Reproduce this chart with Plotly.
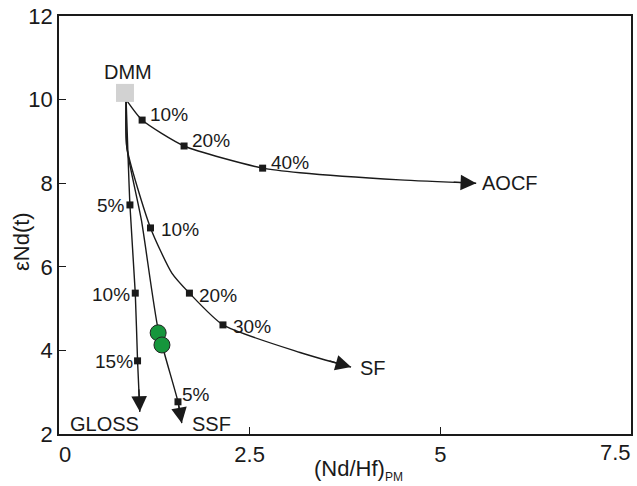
import plotly.graph_objects as go

# ---- data ----
dmm_x = [0.865]
dmm_y = [10.16]

aocf_x = [0.88, 1.09, 1.64, 2.67, 3.16, 4.47, 5.47]
aocf_y = [10.0, 9.51, 8.89, 8.36, 8.25, 8.08, 8.0]
aocf_mark_x = [1.09, 1.64, 2.67]
aocf_mark_y = [9.51, 8.89, 8.36]
aocf_mark_lbl = ["10%", "20%", "40%"]

gloss_x = [0.88, 0.93, 1.00, 1.03, 1.06]
gloss_y = [10.0, 7.48, 5.37, 3.75, 2.53]
gloss_mark_x = [0.93, 1.00, 1.03]
gloss_mark_y = [7.48, 5.37, 3.75]
gloss_mark_lbl = ["5%", "10%", "15%"]

ssf_x = [0.88, 0.89, 1.08, 1.30, 1.56, 1.61]
ssf_y = [10.0, 8.85, 7.12, 4.50, 2.77, 2.26]
ssf_mark_x = [1.56]
ssf_mark_y = [2.77]
ssf_mark_lbl = ["5%"]

sf_x = [0.88, 0.89, 1.20, 1.48, 1.71, 2.15, 3.16, 3.83]
sf_y = [10.0, 8.85, 6.93, 5.85, 5.37, 4.61, 3.95, 3.60]
sf_mark_x = [1.20, 1.71, 2.15]
sf_mark_y = [6.93, 5.37, 4.61]
sf_mark_lbl = ["10%", "20%", "30%"]

sample_x = [1.30, 1.35]
sample_y = [4.42, 4.13]

x_ticks = [0, 2.5, 5, 7.5]
x_ticklabels = ["0", "2.5", "5", "7.5"]
y_ticks = [2, 4, 6, 8, 10, 12]

FONT = "Arial, Liberation Sans, sans-serif"
BLACK = "#1a1a1a"

W, H = 637, 486
ML, MR, MT, MB = 59, 6, 16, 52
XR = [0, 7.5]
YR = [2, 12]
ppx = (W - ML - MR) / (XR[1] - XR[0])
ppy = (H - MT - MB) / (YR[1] - YR[0])

fig = go.Figure()

curves = [(aocf_x, aocf_y), (gloss_x, gloss_y), (ssf_x, ssf_y), (sf_x, sf_y)]
for cx, cy in curves:
    fig.add_trace(go.Scatter(x=cx, y=cy, mode="lines",
                             line=dict(color=BLACK, width=1.4, shape="spline", smoothing=0.6),
                             hoverinfo="skip", showlegend=False))

# arrow heads at curve ends (tail placed a fixed pixel distance back along the last segment)
for cx, cy in curves:
    tx, ty = cx[-1], cy[-1]
    dxp = (tx - cx[-2]) * ppx
    dyp = (ty - cy[-2]) * ppy
    n = (dxp ** 2 + dyp ** 2) ** 0.5
    L = 24.0
    ax_ = tx - dxp / n * L / ppx
    ay_ = ty - dyp / n * L / ppy
    fig.add_annotation(x=tx, y=ty, ax=ax_, ay=ay_,
                       xref="x", yref="y", axref="x", ayref="y", text="",
                       showarrow=True, arrowhead=2, arrowsize=2.4, arrowwidth=1.3,
                       arrowcolor=BLACK)

# DMM square
fig.add_trace(go.Scatter(x=dmm_x, y=dmm_y, mode="markers",
                         marker=dict(symbol="square", size=18, color="#d2d2d2"),
                         hoverinfo="skip", showlegend=False))

# percentage markers
all_mx = aocf_mark_x + gloss_mark_x + ssf_mark_x + sf_mark_x
all_my = aocf_mark_y + gloss_mark_y + ssf_mark_y + sf_mark_y
fig.add_trace(go.Scatter(x=all_mx, y=all_my, mode="markers",
                         marker=dict(symbol="square", size=7, color=BLACK),
                         hoverinfo="skip", showlegend=False))

# samples
fig.add_trace(go.Scatter(x=sample_x, y=sample_y, mode="markers",
                         marker=dict(symbol="circle", size=16, color="#16963c",
                                     line=dict(color="#222222", width=1)),
                         hoverinfo="skip", showlegend=False))

pct_font = dict(family=FONT, size=19, color=BLACK)
end_font = dict(family=FONT, size=20, color=BLACK)

def pct_labels(xs, ys, lbls, side, dx, dy):
    for x, y, t in zip(xs, ys, lbls):
        fig.add_annotation(x=x, y=y, text=t, showarrow=False, font=pct_font,
                           xanchor=side, yanchor="middle", xshift=dx, yshift=dy)

pct_labels(aocf_mark_x, aocf_mark_y, aocf_mark_lbl, "left", 6, 6)
pct_labels(gloss_mark_x, gloss_mark_y, gloss_mark_lbl, "right", -3, -1)
pct_labels(ssf_mark_x, ssf_mark_y, ssf_mark_lbl, "left", 2, 7)
pct_labels(sf_mark_x, sf_mark_y, sf_mark_lbl, "left", 8, -2)

# end-member labels
fig.add_annotation(x=dmm_x[0], y=dmm_y[0], text="DMM", showarrow=False, font=end_font,
                   xanchor="center", yanchor="middle", xshift=3, yshift=21)
fig.add_annotation(x=aocf_x[-1], y=aocf_y[-1], text="AOCF", showarrow=False, font=end_font,
                   xanchor="left", yanchor="middle", xshift=4, yshift=0)
fig.add_annotation(x=sf_x[-1], y=sf_y[-1], text="SF", showarrow=False, font=end_font,
                   xanchor="left", yanchor="middle", xshift=7, yshift=-1)
fig.add_annotation(x=gloss_x[-1], y=gloss_y[-1], text="GLOSS", showarrow=False, font=end_font,
                   xanchor="right", yanchor="middle", xshift=1, yshift=-12)
fig.add_annotation(x=ssf_x[-1], y=ssf_y[-1], text="SSF", showarrow=False, font=end_font,
                   xanchor="left", yanchor="middle", xshift=8, yshift=-1)

# axis titles
fig.add_annotation(xref="paper", yref="paper", x=0.5, y=0, xshift=13, yshift=-36,
                   text="(Nd/Hf)<sub><span style='font-size:12px'>PM</span></sub>",
                   showarrow=False, font=dict(family=FONT, size=22, color=BLACK),
                   xanchor="center", yanchor="middle")
fig.add_annotation(xref="paper", yref="paper", x=0, y=0.5, xshift=-38, yshift=-17,
                   text="εNd(t)", textangle=-90, showarrow=False,
                   font=dict(family=FONT, size=22, color=BLACK),
                   xanchor="center", yanchor="middle")

tick_font = dict(family=FONT, size=22, color=BLACK)

# first label nudged right as in the reference; the last one is right-aligned inside the frame
NB = "\u00a0"
x_ticktext = [NB * 2 + x_ticklabels[0], x_ticklabels[1], x_ticklabels[2], ""]
fig.add_annotation(x=x_ticks[-1], y=0, xref="x", yref="paper", text=x_ticklabels[-1],
                   showarrow=False, font=tick_font, xanchor="right", yanchor="middle",
                   xshift=2, yshift=-18)

axis_common = dict(showgrid=False, zeroline=False, showline=True, linecolor=BLACK,
                   linewidth=1.6, mirror=True, ticks="inside", ticklen=7, tickwidth=1.4,
                   tickcolor=BLACK, automargin=False, tickfont=tick_font)

fig.update_layout(
    width=W, height=H,
    margin=dict(l=ML, r=MR, t=MT, b=MB),
    paper_bgcolor="white", plot_bgcolor="white",
    xaxis=dict(range=XR, tickvals=x_ticks, ticktext=x_ticktext,
               ticklabeloverflow="allow", **axis_common),
    yaxis=dict(range=YR, tickvals=y_ticks, ticklabeloverflow="allow", **axis_common),
)

fig.write_html("out.html", config={"displayModeBar": False},
               post_script="document.body.style.margin='0';")
